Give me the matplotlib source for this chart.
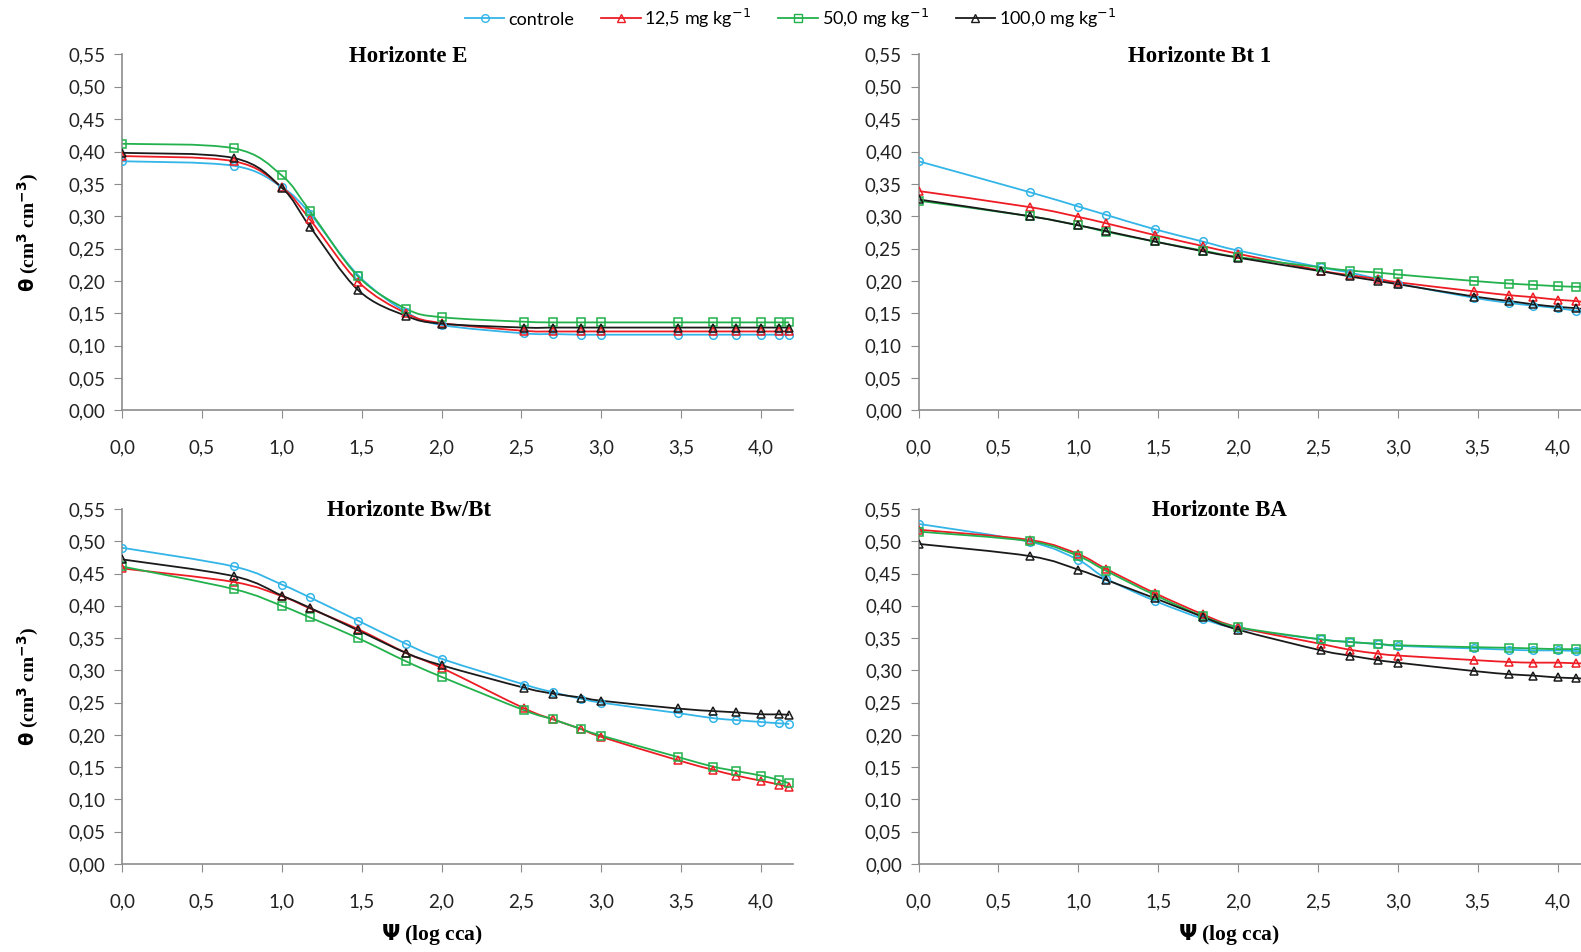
import numpy as np
import matplotlib
matplotlib.use("Agg")
import matplotlib.pyplot as plt
from matplotlib.path import Path
from matplotlib.patches import PathPatch
from matplotlib.lines import Line2D

# suction points, log10 of cca
psi = [0.0, 0.699, 1.0, 1.176, 1.477, 1.778, 2.0, 2.519, 2.699, 2.875, 3.0,
       3.477, 3.699, 3.845, 4.0, 4.114, 4.176]

series_names = ['controle', '12,5 mg kg$^{-1}$', '50,0 mg kg$^{-1}$', '100,0 mg kg$^{-1}$']

# Horizonte E
e_controle = [0.385, 0.378, 0.345, 0.304, 0.209, 0.152, 0.132, 0.119, 0.118, 0.117, 0.117,
              0.117, 0.117, 0.117, 0.117, 0.117, 0.117]
e_125 = [0.393, 0.385, 0.345, 0.295, 0.199, 0.150, 0.135, 0.123, 0.122, 0.122, 0.122,
         0.122, 0.122, 0.122, 0.122, 0.122, 0.122]
e_50 = [0.412, 0.405, 0.363, 0.308, 0.207, 0.157, 0.144, 0.137, 0.136, 0.136, 0.136,
        0.136, 0.136, 0.136, 0.136, 0.136, 0.136]
e_100 = [0.398, 0.390, 0.344, 0.284, 0.186, 0.146, 0.134, 0.128, 0.128, 0.128, 0.128,
         0.128, 0.128, 0.128, 0.128, 0.128, 0.128]

# Horizonte Bt 1
bt1_controle = [0.385, 0.337, 0.315, 0.302, 0.280, 0.261, 0.247, 0.221, 0.213, 0.203, 0.196,
                0.174, 0.166, 0.162, 0.158, 0.154, 0.152]
bt1_125 = [0.339, 0.314, 0.299, 0.289, 0.271, 0.254, 0.242, 0.216, 0.209, 0.203, 0.198,
           0.184, 0.178, 0.175, 0.171, 0.169, 0.167]
bt1_50 = [0.324, 0.300, 0.286, 0.276, 0.261, 0.247, 0.237, 0.221, 0.216, 0.213, 0.210,
          0.200, 0.196, 0.194, 0.192, 0.191, 0.191]
bt1_100 = [0.326, 0.300, 0.286, 0.277, 0.261, 0.246, 0.236, 0.215, 0.207, 0.200, 0.195,
           0.176, 0.169, 0.164, 0.160, 0.158, 0.156]

# Horizonte Bw/Bt
bw_controle = [0.490, 0.461, 0.433, 0.413, 0.377, 0.341, 0.318, 0.278, 0.266, 0.256, 0.250,
               0.234, 0.226, 0.223, 0.220, 0.218, 0.217]
bw_125 = [0.458, 0.437, 0.415, 0.396, 0.364, 0.327, 0.304, 0.241, 0.224, 0.209, 0.197,
          0.161, 0.146, 0.137, 0.129, 0.123, 0.119]
bw_50 = [0.461, 0.426, 0.400, 0.382, 0.350, 0.314, 0.290, 0.238, 0.224, 0.209, 0.199,
         0.166, 0.151, 0.144, 0.137, 0.130, 0.125]
bw_100 = [0.472, 0.446, 0.416, 0.397, 0.362, 0.327, 0.308, 0.273, 0.264, 0.258, 0.253,
          0.241, 0.237, 0.235, 0.232, 0.232, 0.231]

# Horizonte BA
ba_controle = [0.527, 0.499, 0.471, 0.442, 0.408, 0.380, 0.365, 0.348, 0.344, 0.341, 0.338,
               0.334, 0.332, 0.331, 0.331, 0.330, 0.330]
ba_125 = [0.518, 0.502, 0.480, 0.457, 0.420, 0.387, 0.367, 0.341, 0.332, 0.326, 0.323,
          0.316, 0.313, 0.312, 0.312, 0.311, 0.311]
ba_50 = [0.515, 0.500, 0.477, 0.454, 0.417, 0.384, 0.367, 0.348, 0.344, 0.341, 0.339,
         0.336, 0.335, 0.334, 0.333, 0.333, 0.333]
ba_100 = [0.496, 0.477, 0.456, 0.440, 0.412, 0.383, 0.363, 0.331, 0.323, 0.316, 0.312,
          0.299, 0.294, 0.292, 0.289, 0.288, 0.287]

panels = [
    ('Horizonte E', [e_controle, e_125, e_50, e_100]),
    ('Horizonte Bt 1', [bt1_controle, bt1_125, bt1_50, bt1_100]),
    ('Horizonte Bw/Bt', [bw_controle, bw_125, bw_50, bw_100]),
    ('Horizonte BA', [ba_controle, ba_125, ba_50, ba_100]),
]

colors = ['#33b5e8', '#ee1c24', '#22b14c', '#1a1a1a']
markers = ['o', '^', 's', '^']

plt.rcParams['font.family'] = ['Lato', 'DejaVu Sans']
SERIF = ['Liberation Serif', 'DejaVu Serif']


def smooth_curve(x, y):
    """Excel-like smoothed line as cubic bezier path"""
    n = len(x)
    verts = [(x[0], y[0])]
    codes = [Path.MOVETO]
    for i in range(n - 1):
        a = max(i - 1, 0)
        b = min(i + 2, n - 1)
        c1 = (x[i] + (x[i + 1] - x[a]) / 6, y[i] + (y[i + 1] - y[a]) / 6)
        c2 = (x[i + 1] - (x[b] - x[i]) / 6, y[i + 1] - (y[b] - y[i]) / 6)
        verts += [c1, c2, (x[i + 1], y[i + 1])]
        codes += [Path.CURVE4] * 3
    return Path(verts, codes)


fig = plt.figure(figsize=(15.81, 9.52), dpi=100)

W = 0.4244
boxes = [
    [0.0772, 0.5689, W, 0.3739],
    [0.581, 0.5689, W, 0.3739],
    [0.0772, 0.0924, W, 0.3729],
    [0.581, 0.0924, W, 0.3729],
]
title_x = [0.426, 0.419, 0.428, 0.449]

for k, (title, data) in enumerate(panels):
    ax = fig.add_axes(boxes[k])
    for vals, c, m in zip(data, colors, markers):
        ax.add_patch(PathPatch(smooth_curve(psi, vals), facecolor='none',
                               edgecolor=c, lw=1.3, zorder=2))
        ax.plot(psi, vals, ls='none', marker=m, ms=5.5, mfc='none', mec=c,
                mew=1.1, zorder=3)
    ax.set_xlim(0, 4.2)
    ax.set_ylim(0, 0.55)
    ax.set_xticks(np.arange(0, 4.01, 0.5))
    ax.set_yticks(np.arange(0, 0.551, 0.05))
    ax.set_xticklabels([f'{v:.1f}'.replace('.', ',') for v in np.arange(0, 4.01, 0.5)])
    ax.set_yticklabels([f'{v:.2f}'.replace('.', ',') for v in np.arange(0, 0.551, 0.05)])
    for s in ['top', 'right']:
        ax.spines[s].set_visible(False)
    for s in ['left', 'bottom']:
        ax.spines[s].set_color('#8c8c8c')
        ax.spines[s].set_linewidth(1.2)
    ax.tick_params(axis='x', direction='out', length=6, color='#8c8c8c',
                   labelsize=13.5, pad=15, labelcolor='#222222')
    ax.tick_params(axis='y', direction='out', length=6, color='#8c8c8c',
                   labelsize=13.5, pad=6, labelcolor='#222222')
    ax.text(title_x[k], 0.995, title, transform=ax.transAxes, ha='center',
            va='center', fontsize=16.5, fontweight='bold', family=SERIF)

# axis labels
for yy in [0.756, 0.279]:
    fig.text(0.018, yy, r'$\mathbf{\theta}$ (cm$^{\mathbf{3}}$ cm$^{\mathbf{-3}}$)',
             rotation=90, ha='center', va='center', fontsize=14,
             fontweight='bold', family=SERIF)
for xx in [0.273, 0.777]:
    fig.text(xx, 0.018, r'$\mathbf{\Psi}$ (log cca)', ha='center', va='center',
             fontsize=15.5, fontweight='bold', family=SERIF)

handles = [Line2D([], [], color=c, marker=m, ms=5.5, mfc='none', mec=c, lw=1.3)
           for c, m in zip(colors, markers)]
fig.legend(handles, series_names, loc='center', bbox_to_anchor=(0.5, 0.981),
           ncol=4, frameon=False, fontsize=13, handlelength=2.2,
           handletextpad=0.2, columnspacing=1.5)

plt.savefig('out.png', dpi=100)
